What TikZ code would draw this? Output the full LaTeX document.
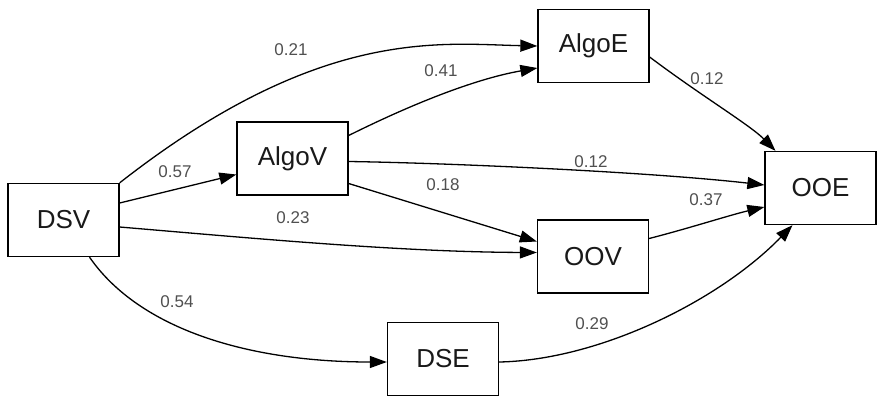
\documentclass[tikz,border=0pt]{standalone}
\usepackage{fontspec}
\setmainfont{Liberation Sans}
\usetikzlibrary{arrows.meta}
\definecolor{lblgray}{RGB}{80,80,80}
\tikzset{
  box/.style={draw=black, line width=1.3pt, minimum width=111pt, minimum height=73pt, inner sep=0pt, font=\fontsize{26}{26}\selectfont, text=black!90},
  conn/.style={line width=1.3pt, -{Triangle[length=17pt,width=12pt]}},
  wlbl/.style={font=\fontsize{17}{17}\selectfont, text=lblgray, inner sep=0pt}
}
\begin{document}
\begin{tikzpicture}[x=1pt,y=-1pt]
\useasboundingbox (0,0) rectangle (877,397);
\fill[white] (0,0) rectangle (877,397);
\node[box] (DSV) at (63.5,220) {DSV};
\node[box] (AlgoV) at (292.5,158.5) {AlgoV};
\node[box] (AlgoE) at (593.5,46) {AlgoE};
\node[box] (OOE) at (820.5,188) {OOE};
\node[box] (OOV) at (593,256.5) {OOV};
\node[box] (DSE) at (443,359) {DSE};

% edges
\draw[conn] (DSV.north east) .. controls (320,26) and (440,44) .. (AlgoE.west);
\draw[conn] ([yshift=23pt]AlgoV.east) .. controls (420,100) and (480,78) .. ([yshift=-22pt]AlgoE.west);
\draw[conn] ([yshift=17pt]DSV.east) -- ([yshift=-16pt]AlgoV.west);
\draw[conn] ([yshift=-7pt]DSV.east) .. controls (250,238) and (400,252) .. ([yshift=4pt]OOV.west);
\draw[conn] ([yshift=-25pt]AlgoV.east) -- ([yshift=15pt]OOV.west);
\draw[conn] ([yshift=-3pt]AlgoV.east) .. controls (450,163) and (650,172) .. ([yshift=3pt]OOE.west);
\draw[conn] ([yshift=18pt]OOV.east) .. controls (690,228) and (730,215) .. ([yshift=-19pt]OOE.west);
\draw[conn] ([yshift=-11pt]AlgoE.east) .. controls (700,95) and (750,125) .. ([xshift=-45pt]OOE.north);
\draw[conn] ([xshift=26pt]DSV.south) .. controls (140,330) and (250,362) .. ([yshift=-3pt]DSE.west);
\draw[conn] ([yshift=-3pt]DSE.east) .. controls (600,360) and (720,300) .. ([xshift=-28pt]OOE.south);

% labels
\node[wlbl] (l1) at (291,50) {0.21};
\node[wlbl] (l2) at (441,71) {0.41};
\node[wlbl] (l3) at (175,172) {0.57};
\node[wlbl] (l4) at (293,218) {0.23};
\node[wlbl] (l5) at (443,185) {0.18};
\node[wlbl] (l6) at (591,162) {0.12};
\node[wlbl] (l7) at (706,200) {0.37};
\node[wlbl] (l8) at (707,79) {0.12};
\node[wlbl] (l9) at (177,302) {0.54};
\node[wlbl] (l10) at (592,324) {0.29};
\end{tikzpicture}
\end{document}
